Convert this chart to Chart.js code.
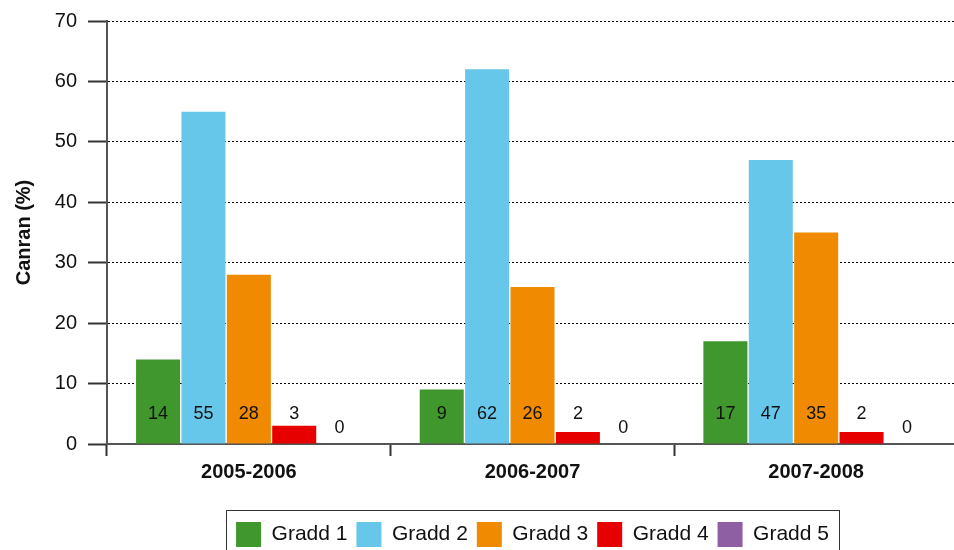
<!DOCTYPE html>
<html>
<head>
<meta charset="utf-8">
<script src="https://cdn.jsdelivr.net/npm/chart.js@4/dist/chart.umd.min.js"></script>
<style>
  html, body { margin: 0; padding: 0; overflow: hidden; background: #fff; }
  #wrap { width: 958px; height: 557px; }
</style>
</head>
<body>
<div id="wrap"><canvas id="mainChart"></canvas></div>
<script>
// data
const years = ['2005-2006', '2006-2007', '2007-2008'];
const gradd1 = [14, 9, 17];
const gradd2 = [55, 62, 47];
const gradd3 = [28, 26, 35];
const gradd4 = [3, 2, 2];
const gradd5 = [0, 0, 0];
const yTicks = [0, 10, 20, 30, 40, 50, 60, 70];

const seriesNames = ['Gradd 1', 'Gradd 2', 'Gradd 3', 'Gradd 4', 'Gradd 5'];
const seriesData = [gradd1, gradd2, gradd3, gradd4, gradd5];
const seriesColors = ['#3f972e', '#66c7ea', '#f08a00', '#e60000', '#8e5fa3'];

const FONT = "'Liberation Sans', Arial, sans-serif";

// numbers inside the bars, near the bottom
const barLabels = {
  id: 'barLabels',
  afterDatasetsDraw(chart) {
    const ctx = chart.ctx;
    const y = chart.scales.y;
    ctx.save();
    ctx.font = '18px ' + FONT;
    ctx.fillStyle = '#111';
    ctx.textAlign = 'center';
    ctx.textBaseline = 'middle';
    chart.data.datasets.forEach((ds, i) => {
      const meta = chart.getDatasetMeta(i);
      meta.data.forEach((bar, j) => {
        const v = ds.data[j];
        const py = v === 0 ? y.getPixelForValue(2.6) : y.getPixelForValue(5);
        ctx.fillText(String(v), bar.x, py);
      });
    });
    ctx.restore();
  }
};

// frame round the legend
const legendFrame = {
  id: 'legendFrame',
  afterDraw(chart) {
    const boxes = chart.legend && chart.legend.legendHitBoxes;
    if (!boxes || !boxes.length) return;
    const first = boxes[0];
    const last = boxes[boxes.length - 1];
    const ctx = chart.ctx;
    ctx.save();
    ctx.strokeStyle = '#333';
    ctx.lineWidth = 1;
    const l = Math.round(first.left - 10) + 0.5;
    const r = Math.round(last.left + last.width + 10) + 0.5;
    const t = Math.round(first.top - 12) + 0.5;
    ctx.strokeRect(l, t, r - l, chart.height + 10 - t);
    ctx.restore();
  }
};

const ctx = document.getElementById('mainChart').getContext('2d');
window.myChart = new Chart(ctx, {
  type: 'bar',
  data: {
    labels: years,
    datasets: seriesNames.map((name, i) => ({
      label: name,
      data: seriesData[i],
      backgroundColor: seriesColors[i],
      borderWidth: 0,
      barPercentage: 0.97,
      categoryPercentage: 0.8
    }))
  },
  options: {
    responsive: true,
    maintainAspectRatio: false,
    animation: false,
    layout: { padding: { top: 21, left: 0, right: 0, bottom: 0 } },
    plugins: {
      legend: {
        position: 'bottom',
        fullSize: false,
        labels: {
          boxWidth: 25,
          boxHeight: 25,
          padding: 9,
          color: '#111',
          font: { family: FONT, size: 21 }
        }
      },
      tooltip: { enabled: false }
    },
    scales: {
      x: {
        afterFit(scale) { scale.height = 69; },
        grid: {
          drawOnChartArea: false,
          drawTicks: true,
          tickLength: 12,
          tickWidth: 2,
          tickColor: '#333',
          offset: true
        },
        border: { color: '#555', width: 2 },
        ticks: {
          padding: 4,
          color: '#111',
          font: { family: FONT, size: 20, weight: 'bold' }
        }
      },
      y: {
        min: 0,
        max: 70,
        afterFit(scale) {
          scale.width = 107;
          scale.paddingTop = 0;
          scale.paddingBottom = 0;
        },
        afterBuildTicks(scale) { scale.ticks = yTicks.map(v => ({ value: v })); },
        grid: {
          color: c => (c.tick && c.tick.value === 0 ? 'rgba(0,0,0,0)' : '#000'),
          lineWidth: 1,
          tickLength: 19,
          tickWidth: 2,
          tickColor: '#333',
          tickBorderDash: []
        },
        border: { color: '#555', width: 2, dash: [2, 2] },
        ticks: {
          padding: 11,
          color: '#111',
          font: { family: FONT, size: 20 }
        },
        title: {
          display: true,
          text: 'Canran (%)',
          color: '#111',
          padding: { top: 12, bottom: 0 },
          font: { family: FONT, size: 20, weight: 'bold' }
        }
      }
    }
  },
  plugins: [barLabels, legendFrame]
});
</script>
</body>
</html>
